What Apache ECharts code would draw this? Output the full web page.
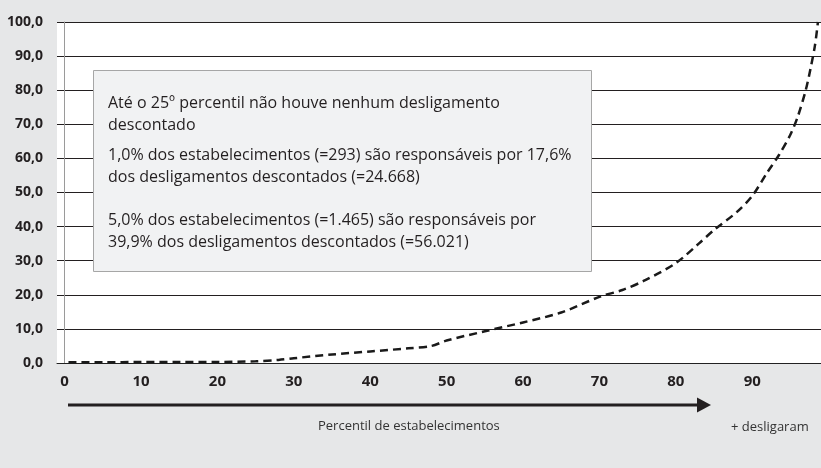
<!DOCTYPE html>
<html>
<head>
<meta charset="utf-8">
<script src="https://cdn.jsdelivr.net/npm/echarts@6/dist/echarts.min.js"></script>
<style>
  html, body { margin: 0; padding: 0; background: #e6e7e8; }
  #main { width: 821px; height: 468px; }
</style>
</head>
<body>
<div id="main"></div>
<script>
// percentil de estabelecimentos x % acumulado dos desligamentos descontados
var percentil = [0.5, 5, 10, 15, 20, 25, 28, 30, 35, 40, 45, 48, 50, 55, 60, 65, 70, 73, 76, 80, 83, 85, 88, 90, 92, 93.5, 95, 96, 97, 97.6, 98.2, 98.6]
var acumulado = [0.2, 0.2, 0.3, 0.3, 0.3, 0.5, 0.9, 1.4, 2.5, 3.4, 4.3, 5.0, 6.6, 9.3, 11.9, 14.8, 19.4, 21.4, 24.3, 29.3, 35.0, 39.0, 44.3, 49.0, 56.0, 61.0, 67.0, 72.5, 80.0, 86.0, 93.0, 100.0]
var xTicks = [0, 10, 20, 30, 40, 50, 60, 70, 80, 90]
var notas = [
  'Até o 25º percentil não houve nenhum desligamento\ndescontado',
  '1,0% dos estabelecimentos (=293) são responsáveis por 17,6%\ndos desligamentos descontados (=24.668)',
  '5,0% dos estabelecimentos (=1.465) são responsáveis por\n39,9% dos desligamentos descontados (=56.021)'
]

var pontos = []
for (var i = 0; i < percentil.length; i++) {
  pontos.push([percentil[i], acumulado[i]])
}

var chart = echarts.init(document.getElementById('main'))
var fonte = '"Open Sans", "Noto Sans", sans-serif'

var option = {
  backgroundColor: '#e6e7e8',
  animation: false,
  grid: {
    left: 57,
    right: 0,
    top: 22,
    bottom: 105,
    show: true,
    backgroundColor: '#ffffff',
    borderWidth: 0
  },
  xAxis: {
    type: 'value',
    min: -1,
    max: 99,
    axisLine: { show: true, onZero: false, lineStyle: { color: '#222', width: 1 } },
    axisTick: { show: false },
    splitLine: { show: false },
    axisLabel: {
      customValues: xTicks,
      margin: 11,
      color: '#231f20',
      fontFamily: fonte,
      fontWeight: 'bold',
      fontSize: 15
    }
  },
  yAxis: {
    type: 'value',
    min: 0,
    max: 100,
    interval: 10,
    axisLine: { show: true, lineStyle: { color: '#9a9a9a', width: 1 } },
    axisTick: { show: false },
    splitLine: { show: true, lineStyle: { color: '#231f20', width: 1 } },
    axisLabel: {
      margin: 14,
      color: '#231f20',
      fontFamily: fonte,
      fontWeight: 'bold',
      fontSize: 14,
      formatter: function (v) { return v.toFixed(1).replace('.', ',') }
    }
  },
  series: [
    {
      type: 'line',
      data: pontos,
      showSymbol: false,
      smooth: 0.3,
      lineStyle: { color: '#1a1a1a', width: 2.5, type: [8, 5] },
      z: 5
    }
  ],
  graphic: [
    // caixa de notas
    {
      type: 'rect',
      left: 93,
      top: 70,
      shape: { width: 498, height: 201 },
      style: { fill: '#f1f2f3', stroke: '#a6a6a6', lineWidth: 1 },
      z: 10
    },
    {
      type: 'text', left: 108, top: 92, z: 11,
      style: { text: notas[0], fill: '#231f20', font: '16px ' + fonte, lineHeight: 22 }
    },
    {
      type: 'text', left: 108, top: 144, z: 11,
      style: { text: notas[1], fill: '#231f20', font: '16px ' + fonte, lineHeight: 22 }
    },
    {
      type: 'text', left: 108, top: 209, z: 11,
      style: { text: notas[2], fill: '#231f20', font: '16px ' + fonte, lineHeight: 22 }
    },
    // seta
    {
      type: 'line',
      shape: { x1: 68, y1: 405, x2: 699, y2: 405 },
      style: { stroke: '#231f20', lineWidth: 3 }
    },
    {
      type: 'polygon',
      shape: { points: [[697, 397.5], [711, 405], [697, 412.5]] },
      style: { fill: '#231f20' }
    },
    {
      type: 'text', left: 318, top: 420,
      style: { text: 'Percentil de estabelecimentos', fill: '#333', font: '13px ' + fonte }
    },
    {
      type: 'text', left: 731, top: 421,
      style: { text: '+ desligaram', fill: '#333', font: '13px ' + fonte }
    }
  ]
}

chart.setOption(option)
</script>
</body>
</html>
